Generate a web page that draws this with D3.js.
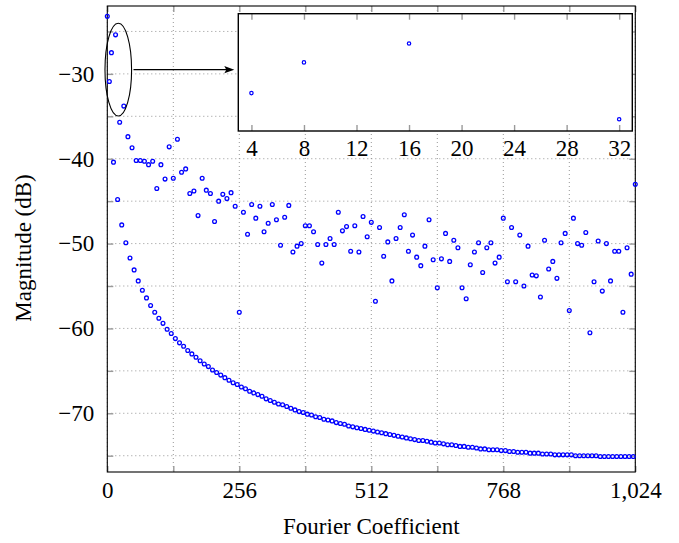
<!DOCTYPE html>
<html>
<head>
<meta charset="utf-8">
<script src="https://cdnjs.cloudflare.com/ajax/libs/d3/7.8.5/d3.min.js"></script>
<style>
    body { margin: 0; background: #fff; }
</style>
</head>
<body>
<div id="chart"></div>
<script>
// coefficient index of the noisy (every 8th) bins
var evenBins = [0,8,16,24,32,40,48,56,64,72,80,88,96,104,112,120,128,136,144,152,160,168,176,184,192,200,208,216,224,232,240,248,
    256,264,272,280,288,296,304,312,320,328,336,344,352,360,368,376,384,392,400,408,416,424,432,440,448,456,464,472,480,488,496,504,
    512,520,528,536,544,552,560,568,576,584,592,600,608,616,624,632,640,648,656,664,672,680,688,696,704,712,720,728,736,744,752,760,
    768,776,784,792,800,808,816,824,832,840,848,856,864,872,880,888,896,904,912,920,928,936,944,952,960,968,976,984,992,1000,1008,1016,
    1024];
var evenDb = [-23.2,-27.5,-25.4,-35.7,-33.8,-37.4,-38.7,-40.2,-40.2,-40.3,-40.7,-40.3,-43.5,-40.7,-42.4,-38.6,-42.3,-37.7,-41.6,-41.2,-44.1,-43.8,-46.7,-42.3,-43.7,-44.1,-47.4,-45.0,-44.2,-44.7,-44.0,-45.6,
    -58.1,-46.3,-48.9,-45.4,-47.0,-45.6,-48.6,-47.6,-45.4,-47.2,-50.2,-46.9,-45.5,-51.0,-50.3,-50.0,-47.9,-47.9,-48.6,-50.1,-52.3,-50.1,-49.4,-50.1,-46.3,-48.5,-48.0,-50.9,-47.9,-51.0,-46.8,-49.2,
    -47.5,-56.8,-48.1,-51.5,-49.8,-54.4,-49.4,-48.1,-46.6,-50.9,-49.0,-51.6,-52.6,-50.3,-47.2,-51.9,-55.2,-51.8,-48.8,-52.1,-49.6,-50.5,-55.2,-56.5,-52.5,-51.0,-49.9,-53.4,-50.5,-49.9,-52.3,-51.6,
    -47.0,-54.5,-48.1,-54.5,-49.0,-55.0,-50.3,-53.7,-53.8,-56.3,-49.6,-53.0,-52.1,-54.1,-49.9,-48.8,-57.9,-47.0,-50.0,-50.2,-48.7,-60.5,-54.5,-49.7,-55.6,-50.0,-54.4,-50.9,-50.9,-58.1,-50.5,-53.6,
    -43.0];

// the smooth leakage bins in between
var oddBins = [4,12,20,28,36,44,52,60,68,76,84,92,100,108,116,124,132,140,148,156,164,172,180,188,196,204,212,220,228,236,244,252,
    260,268,276,284,292,300,308,316,324,332,340,348,356,364,372,380,388,396,404,412,420,428,436,444,452,460,468,476,484,492,500,508,
    516,524,532,540,548,556,564,572,580,588,596,604,612,620,628,636,644,652,660,668,676,684,692,700,708,716,724,732,740,748,756,764,
    772,780,788,796,804,812,820,828,836,844,852,860,868,876,884,892,900,908,916,924,932,940,948,956,964,972,980,988,996,1004,1012,1020];
var oddDb = [-30.9,-40.4,-44.8,-47.8,-49.9,-51.7,-53.1,-54.4,-55.5,-56.4,-57.3,-58.1,-58.8,-59.4,-60.1,-60.6,
    -61.2,-61.7,-62.1,-62.6,-63.0,-63.4,-63.8,-64.2,-64.5,-64.9,-65.2,-65.5,-65.8,-66.1,-66.4,-66.6,
    -66.9,-67.1,-67.4,-67.6,-67.8,-68.0,-68.3,-68.5,-68.7,-68.9,-69.0,-69.2,-69.4,-69.6,-69.8,-69.9,
    -70.1,-70.2,-70.4,-70.5,-70.7,-70.8,-70.9,-71.1,-71.2,-71.3,-71.5,-71.6,-71.7,-71.8,-71.9,-72.0,
    -72.1,-72.2,-72.3,-72.4,-72.5,-72.6,-72.7,-72.8,-72.9,-73.0,-73.1,-73.2,-73.2,-73.3,-73.4,-73.5,
    -73.5,-73.6,-73.7,-73.7,-73.8,-73.9,-73.9,-74.0,-74.0,-74.1,-74.2,-74.2,-74.3,-74.3,-74.3,-74.4,
    -74.4,-74.5,-74.5,-74.6,-74.6,-74.6,-74.7,-74.7,-74.7,-74.8,-74.8,-74.8,-74.9,-74.9,-74.9,-74.9,
    -74.9,-75.0,-75.0,-75.0,-75.0,-75.0,-75.0,-75.1,-75.1,-75.1,-75.1,-75.1,-75.1,-75.1,-75.1,-75.1];

var xTicks = [0,128,256,384,512,640,768,896,1024];   // labels only on multiples of 256
var yTicks = [-25,-30,-35,-40,-45,-50,-55,-60,-65,-70,-75];  // labels only on multiples of 10
var insetTicks = [4,8,12,16,20,24,28,32];

var SERIF = "Liberation Serif";

SpectrumPlot = function (_parentElement) {
    this.parentElement = _parentElement;
    this.points = evenBins.map(function (b, i) { return {bin: b, db: evenDb[i]}; })
        .concat(oddBins.map(function (b, i) { return {bin: b, db: oddDb[i]}; }));
    this.initVis();
};

SpectrumPlot.prototype.initVis = function () {
    var vis = this;

    vis.box = {left: 107.3, right: 635.3, top: 6, bottom: 472};
    vis.svg = d3.select("#" + vis.parentElement)
        .append("svg")
        .attr("width", 679)
        .attr("height", 543)
        .style("font-family", SERIF);

    vis.x = d3.scaleLinear().domain([0, 1024]).range([vis.box.left, vis.box.right]);
    vis.y = d3.scaleLinear().domain([-76.92, -22.0]).range([vis.box.bottom, vis.box.top]);

    // dotted grid
    var grid = vis.svg.append("g").attr("class", "grid")
        .attr("stroke", "#8a8a8a").attr("stroke-width", 0.9).attr("stroke-dasharray", "1,3");
    grid.selectAll(".gx").data(xTicks).enter().append("line")
        .attr("x1", vis.x).attr("x2", vis.x)
        .attr("y1", vis.box.top).attr("y2", vis.box.bottom);
    grid.selectAll(".gy").data(yTicks).enter().append("line")
        .attr("x1", vis.box.left).attr("x2", vis.box.right)
        .attr("y1", vis.y).attr("y2", vis.y);

    var fmt = d3.format(",");
    vis.axis(d3.axisBottom(vis.x).tickValues(xTicks).tickSize(-6).tickPadding(10)
        .tickFormat(function (d) { return d % 256 === 0 ? fmt(d) : ""; }), 0, vis.box.bottom);
    vis.axis(d3.axisTop(vis.x).tickValues(xTicks).tickSize(-6).tickFormat(""), 0, vis.box.top);
    vis.axis(d3.axisLeft(vis.y).tickValues(yTicks).tickSize(-6).tickPadding(13)
        .tickFormat(function (d) { return d % 10 === 0 ? d3.format("d")(d) : ""; }), vis.box.left, 0);
    vis.axis(d3.axisRight(vis.y).tickValues(yTicks).tickSize(-6).tickFormat(""), vis.box.right, 0);

    vis.svg.append("rect")
        .attr("x", vis.box.left).attr("y", vis.box.top)
        .attr("width", vis.box.right - vis.box.left).attr("height", vis.box.bottom - vis.box.top)
        .attr("fill", "none").attr("stroke", "#000").attr("stroke-width", 1.1);

    vis.svg.append("g").selectAll("circle")
        .data(vis.points)
        .enter().append("circle")
        .attr("cx", function (d) { return vis.x(d.bin); })
        .attr("cy", function (d) { return vis.y(d.db); })
        .attr("r", 1.9)
        .attr("fill", "none")
        .attr("stroke", "#0000ff")
        .attr("stroke-width", 1.3);

    // ellipse round the first few bins + arrow to the zoom
    var ecx = 21.3, ecy = -29.5;
    vis.svg.append("ellipse")
        .attr("cx", vis.x(ecx)).attr("cy", vis.y(ecy))
        .attr("rx", vis.x(ecx + 25.8) - vis.x(ecx))
        .attr("ry", vis.y(ecy - 5.46) - vis.y(ecy))
        .attr("fill", "none").attr("stroke", "#000").attr("stroke-width", 1.1);

    vis.inset = {left: 238.3, right: 632.3, top: 13.7, bottom: 131};
    var ay = vis.y(ecy), ax0 = vis.x(50.8), ax1 = vis.inset.left - 4;
    vis.svg.append("line")
        .attr("x1", ax0).attr("x2", ax1 - 6).attr("y1", ay).attr("y2", ay)
        .attr("stroke", "#000").attr("stroke-width", 1.2);
    vis.svg.append("path")
        .attr("d", "M" + ax1 + "," + ay + "L" + (ax1 - 10) + "," + (ay - 3.6) + "L" + (ax1 - 8) + "," + ay + "L" + (ax1 - 10) + "," + (ay + 3.6) + "Z")
        .attr("fill", "#000");

    vis.initInset();

    vis.svg.append("text")
        .attr("x", (vis.box.left + vis.box.right) / 2).attr("y", 534)
        .attr("text-anchor", "middle").style("font-family", SERIF).style("font-size", "23px")
        .text("Fourier Coefficient");
    vis.svg.append("text")
        .attr("transform", "translate(31,248) rotate(-90)")
        .attr("text-anchor", "middle").style("font-family", SERIF).style("font-size", "23px")
        .text("Magnitude (dB)");
};

SpectrumPlot.prototype.axis = function (gen, tx, ty) {
    var g = this.svg.append("g")
        .attr("transform", "translate(" + tx + "," + ty + ")")
        .call(gen);
    g.attr("font-family", null);
    g.select(".domain").remove();
    g.selectAll(".tick line").attr("stroke", "#9a9a9a").attr("stroke-width", 1.4);
    g.selectAll(".tick text").style("font-family", SERIF).style("font-size", "23px").attr("fill", "#000");
    return g;
};

SpectrumPlot.prototype.initInset = function () {
    var vis = this, b = vis.inset;
    vis.xi = d3.scaleLinear().domain([3, 33]).range([b.left, b.right]);
    vis.yi = d3.scaleLinear().domain([-35.1, -22.1]).range([b.bottom, b.top]);

    vis.svg.append("rect")
        .attr("x", b.left).attr("y", b.top)
        .attr("width", b.right - b.left).attr("height", b.bottom - b.top)
        .attr("fill", "#fff");

    vis.svg.append("clipPath").attr("id", "insetClip")
        .append("rect")
        .attr("x", b.left).attr("y", b.top)
        .attr("width", b.right - b.left).attr("height", b.bottom - b.top);

    vis.axis(d3.axisBottom(vis.xi).tickValues(insetTicks).tickSize(-6).tickPadding(9), 0, b.bottom);
    vis.axis(d3.axisTop(vis.xi).tickValues(insetTicks).tickSize(-6).tickFormat(""), 0, b.top);

    vis.svg.append("g").attr("clip-path", "url(#insetClip)")
        .selectAll("circle")
        .data(vis.points.filter(function (d) { return d.bin >= 3 && d.bin <= 33; }))
        .enter().append("circle")
        .attr("cx", function (d) { return vis.xi(d.bin); })
        .attr("cy", function (d) { return vis.yi(d.db); })
        .attr("r", 1.7)
        .attr("fill", "none")
        .attr("stroke", "#0000ff")
        .attr("stroke-width", 1.2);

    vis.svg.append("rect")
        .attr("x", b.left).attr("y", b.top)
        .attr("width", b.right - b.left).attr("height", b.bottom - b.top)
        .attr("fill", "none").attr("stroke", "#000").attr("stroke-width", 1.4);
};

new SpectrumPlot("chart");
</script>
</body>
</html>
